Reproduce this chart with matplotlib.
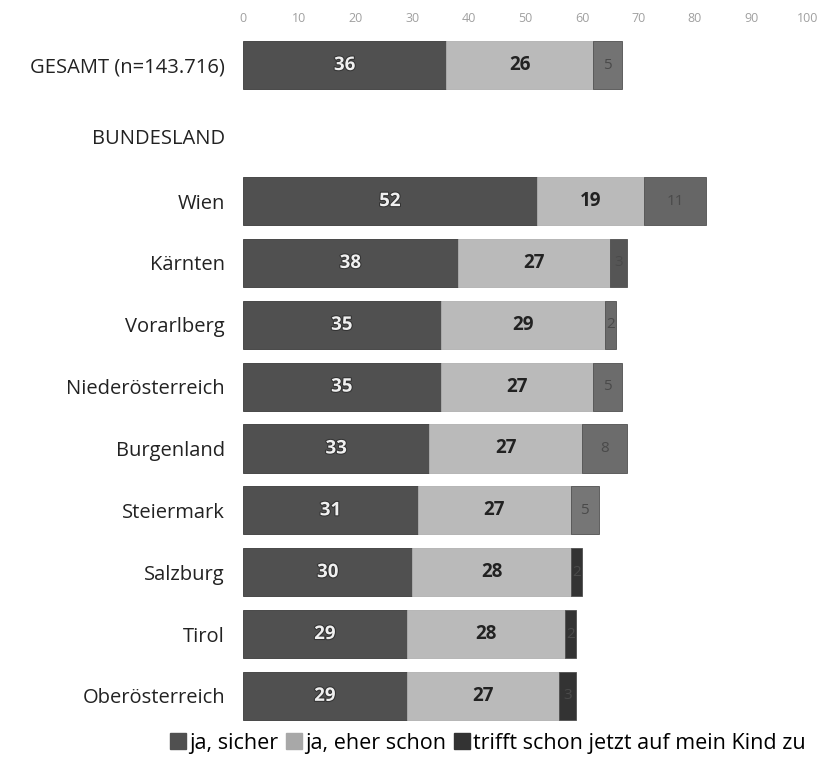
import numpy as np
import matplotlib.pyplot as plt
import matplotlib.patheffects as pe

plt.rcParams['font.family'] = ['Open Sans', 'DejaVu Sans']

# categories (BUNDESLAND is only a header row)
gesamt_label = 'GESAMT (n=143.716)'
header_label = 'BUNDESLAND'
laender = ['Wien', 'Kärnten', 'Vorarlberg', 'Niederösterreich', 'Burgenland',
           'Steiermark', 'Salzburg', 'Tirol', 'Oberösterreich']

# values in % (first row = GESAMT, then Bundesländer)
ja_sicher = [36, 52, 38, 35, 35, 33, 31, 30, 29, 29]
ja_eher = [26, 19, 27, 29, 27, 27, 27, 28, 28, 27]
trifft_zu = [5, 11, 3, 2, 5, 8, 5, 2, 2, 3]

series_names = ['ja, sicher', 'ja, eher schon', 'trifft schon jetzt auf mein Kind zu']
xticks = [0, 10, 20, 30, 40, 50, 60, 70, 80, 90, 100]

c1 = '#505050'
c2 = '#bababa'
# the third segment looks different per bar in the scan
c3 = ['#737373', '#666666', '#555555', '#6a6a6a', '#6c6c6c', '#6c6c6c',
      '#767676', '#333333', '#333333', '#333333']

y = np.array([0.0] + [2.2 + i for i in range(len(laender))])
header_y = 1.15

fig = plt.figure(figsize=(8.2, 7.82), dpi=100)
ax = fig.add_axes([243 / 820, 1 - 728 / 782, (808 - 243) / 820, (728 - 35) / 782])

a = np.array(ja_sicher)
b = np.array(ja_eher)
c = np.array(trifft_zu)
h = 0.78
ax.barh(y, a, height=h, color=c1, edgecolor='#3a3a3a', linewidth=0.6)
ax.barh(y, b, left=a, height=h, color=c2, edgecolor='#b0b0b0', linewidth=0.6)
ax.barh(y, c, left=a + b, height=h, color=c3, edgecolor='#505050', linewidth=0.6)

outline = [pe.withStroke(linewidth=1.5, foreground='#333333')]
for yi, v1, v2, v3 in zip(y, a, b, c):
    ax.text(v1 / 2, yi, str(v1), ha='center', va='center', fontsize=13.5,
            fontweight='bold', color='#f0f0f0', path_effects=outline)
    ax.text(v1 + v2 / 2, yi, str(v2), ha='center', va='center', fontsize=13.5,
            fontweight='bold', color='#222222')
    if v3 >= 2:
        ax.text(v1 + v2 + v3 / 2, yi, str(v3), ha='center', va='center',
                fontsize=11, color='#4a4a4a')

ax.set_xlim(0, 100)
ax.set_ylim(10.72, -0.486)
ax.set_xticks(xticks)
ax.xaxis.tick_top()
ax.tick_params(axis='x', length=0, labelsize=9, labelcolor='#a0a0a0', pad=7)
ax.set_yticks(list(y) + [header_y])
ax.set_yticklabels([gesamt_label] + laender + [header_label])
ax.tick_params(axis='y', length=0, labelsize=14.5, labelcolor='#222222', pad=13)
for s in ax.spines.values():
    s.set_visible(False)

handles = [plt.Rectangle((0, 0), 1, 1, color=col) for col in [c1, '#a8a8a8', '#333333']]
fig.legend(handles, series_names, loc='center', bbox_to_anchor=(488 / 820, 1 - 743 / 782),
           ncol=3, frameon=False, fontsize=15.5, handlelength=0.75, handleheight=0.75,
           handletextpad=0.15, columnspacing=0.35, borderaxespad=0)

fig.savefig('out.png', dpi=100)
